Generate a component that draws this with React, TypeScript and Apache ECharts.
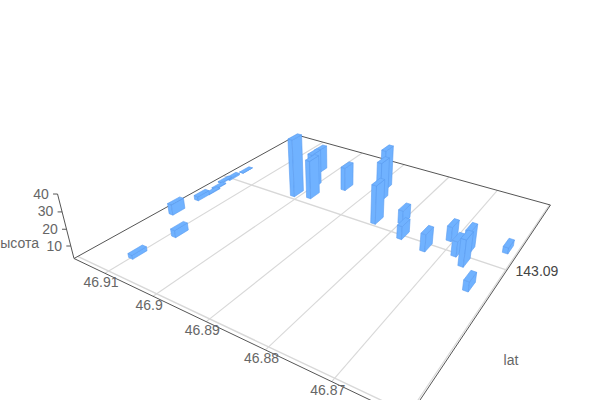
import React, { useEffect, useRef } from "react";
import * as echarts from "echarts";

// Values
const barLat = [46.90988,46.90891,46.91453,46.91447,46.9144,46.91482,46.91554,46.91512,46.91501,46.90104,46.89814,46.90271,46.90007,46.89457,46.88839,46.88692,46.88383,46.87991,46.87783,46.87304,46.87069,46.86824,46.86683,46.86621,46.86322,46.8616];
const barLng = [143.08165,143.08406,143.08554,143.08739,143.08824,143.08887,143.08962,143.09017,143.09131,143.09066,143.09097,143.09383,143.09202,143.09284,143.0941,143.09282,143.09059,143.09137,143.09004,143.08968,143.09123,143.09011,143.0906,143.08951,143.08788,143.09174];
const barHeight = [4.8,6.9,9.1,5.1,2.8,2.8,2.8,3.4,2.4,40.2,27.7,18.5,25.5,17.9,29.6,28.3,27.2,11.1,10.8,13.2,11.5,11.9,16.9,19.1,8.4,6.2];
const latTicks = ["46.91","46.9","46.89","46.88","46.87"];
const latGrid = [46.91,46.9,46.89,46.88,46.87,46.86];
const lngGrid = [143.08,143.09];
const lngLabel = "143.09";
const zTicks = [10,20,30,40];
const zAxisName = "высота";
const lngAxisName = "lat";

// Axis ranges
const latStart = 46.917, latSpan = 0.0572;
const lngStart = 143.0798, lngSpan = 0.01754;
const zStart = 2.35, zSpan = 37.65;
const barLatSize = 0.0009, barLngSize = 0.00086;

// Camera of the 3D box: floor homography + vanishing point of verticals
const cam = { a:225.2,b:361.8,c:74,d:48.1,e:-60.4,f:258.5,g:-0.2666,h:0.4674,s:-0.0583,vx:340,vy:1300 };
const U = (lat:number)=>(latStart-lat)/latSpan;
const W = (lng:number)=>(lng-lngStart)/lngSpan;
const Z = (v:number)=>(v-zStart)/zSpan;
function proj(u:number,w:number,z:number):[number,number]{
  const {a,b,c,d,e,f,g,h,s,vx,vy}=cam;
  const q=g*u+h*w+1+s*z;
  return [(a*u+b*w+c+s*vx*z)/q,(d*u+e*w+f+s*vy*z)/q];
}
const depth=(u:number,w:number)=>cam.g*u+cam.h*w+1;

const DARK="#555", GRID="#d8d8d8", TEXT="#666", FILL="#70b2ff", EDGE="#5a9cf0", FONT="Arial, 'Liberation Sans', sans-serif";

function ln(p:[number,number],q:[number,number],stroke:string,lineWidth=1){
  return {type:"line",silent:true,z:1,shape:{x1:p[0],y1:p[1],x2:q[0],y2:q[1]},style:{stroke,lineWidth}};
}
function label(text:string,x:number,y:number,align:string,fill=TEXT){
  return {type:"text",silent:true,z:3,x,y,style:{text,x:0,y:0,fill,fontSize:14,fontFamily:FONT,align,verticalAlign:"middle"}};
}

function buildGraphic(){
  const els:any[]=[];
  latGrid.forEach(v=>els.push(ln(proj(U(v),0,0),proj(U(v),1,0),GRID,1.1)));
  lngGrid.forEach(v=>els.push(ln(proj(0,W(v),0),proj(1,W(v),0),GRID,1.4)));
  const c00=proj(0,0,0),c10=proj(1,0,0),c11=proj(1,1,0),c01=proj(0,1,0);
  els.push(ln(c00,c10,DARK),ln(c10,c11,DARK),ln(c11,c01,DARK),ln(c01,c00,DARK));
  els.push(ln(c00,proj(0,0,Z(40)),DARK));
  zTicks.forEach(v=>{
    const p=proj(0,0,Z(v));
    els.push(ln(p,[p[0]-4.5,p[1]],DARK));
    els.push(label(String(v),p[0]-16.5,p[1]-0.5,"center"));
  });
  latTicks.forEach(t=>{
    const p=proj(U(+t),0,0);
    els.push(label(t,p[0]-4,p[1]+8.5,"center"));
  });
  const lp=proj(1,W(+lngLabel),0);
  els.push(label(lngLabel,lp[0]+30,lp[1]+1,"center","#444"));
  els.push(label(zAxisName,39,243,"right"));
  els.push(label(lngAxisName,511,360,"center"));
  return els;
}

const barOrder = barLat.map((_,i)=>i).sort((i,j)=>depth(U(barLat[j]),W(barLng[j]))-depth(U(barLat[i]),W(barLng[i])));
const barData = barOrder.map(i=>[barLat[i],barLng[i],barHeight[i]]);

function renderBar(_:any,api:any){
  const u=U(api.value(0)),w=W(api.value(1)),z=Z(api.value(2));
  const du=barLatSize/latSpan/2,dw=barLngSize/lngSpan/2;
  const p=(su:number,sw:number,zz:number)=>proj(u+su*du,w+sw*dw,zz);
  const style={fill:FILL,stroke:EDGE,lineWidth:0.6,lineJoin:"round"};
  const poly=(points:[number,number][])=>({type:"polygon",shape:{points},style});
  return {type:"group",children:[
    poly([p(-1,-1,0),p(1,-1,0),p(1,-1,z),p(-1,-1,z)]),
    poly([p(1,-1,0),p(1,1,0),p(1,1,z),p(1,-1,z)]),
    poly([p(-1,-1,z),p(1,-1,z),p(1,1,z),p(-1,1,z)]),
  ]};
}

export default function App(){
  const r=useRef<HTMLDivElement>(null);
  useEffect(()=>{
    const ch=echarts.init(r.current!,null,{renderer:"svg"});
    ch.setOption({
      animation:false,
      backgroundColor:"#fff",
      graphic:{elements:buildGraphic()},
      series:[{type:"custom",coordinateSystem:"none",silent:true,z:5,renderItem:renderBar,data:barData,encode:{}}],
    });
    return ()=>ch.dispose();
  },[]);
  return <div ref={r} style={{position:"fixed",left:0,top:0,width:600,height:400}}/>;
}
